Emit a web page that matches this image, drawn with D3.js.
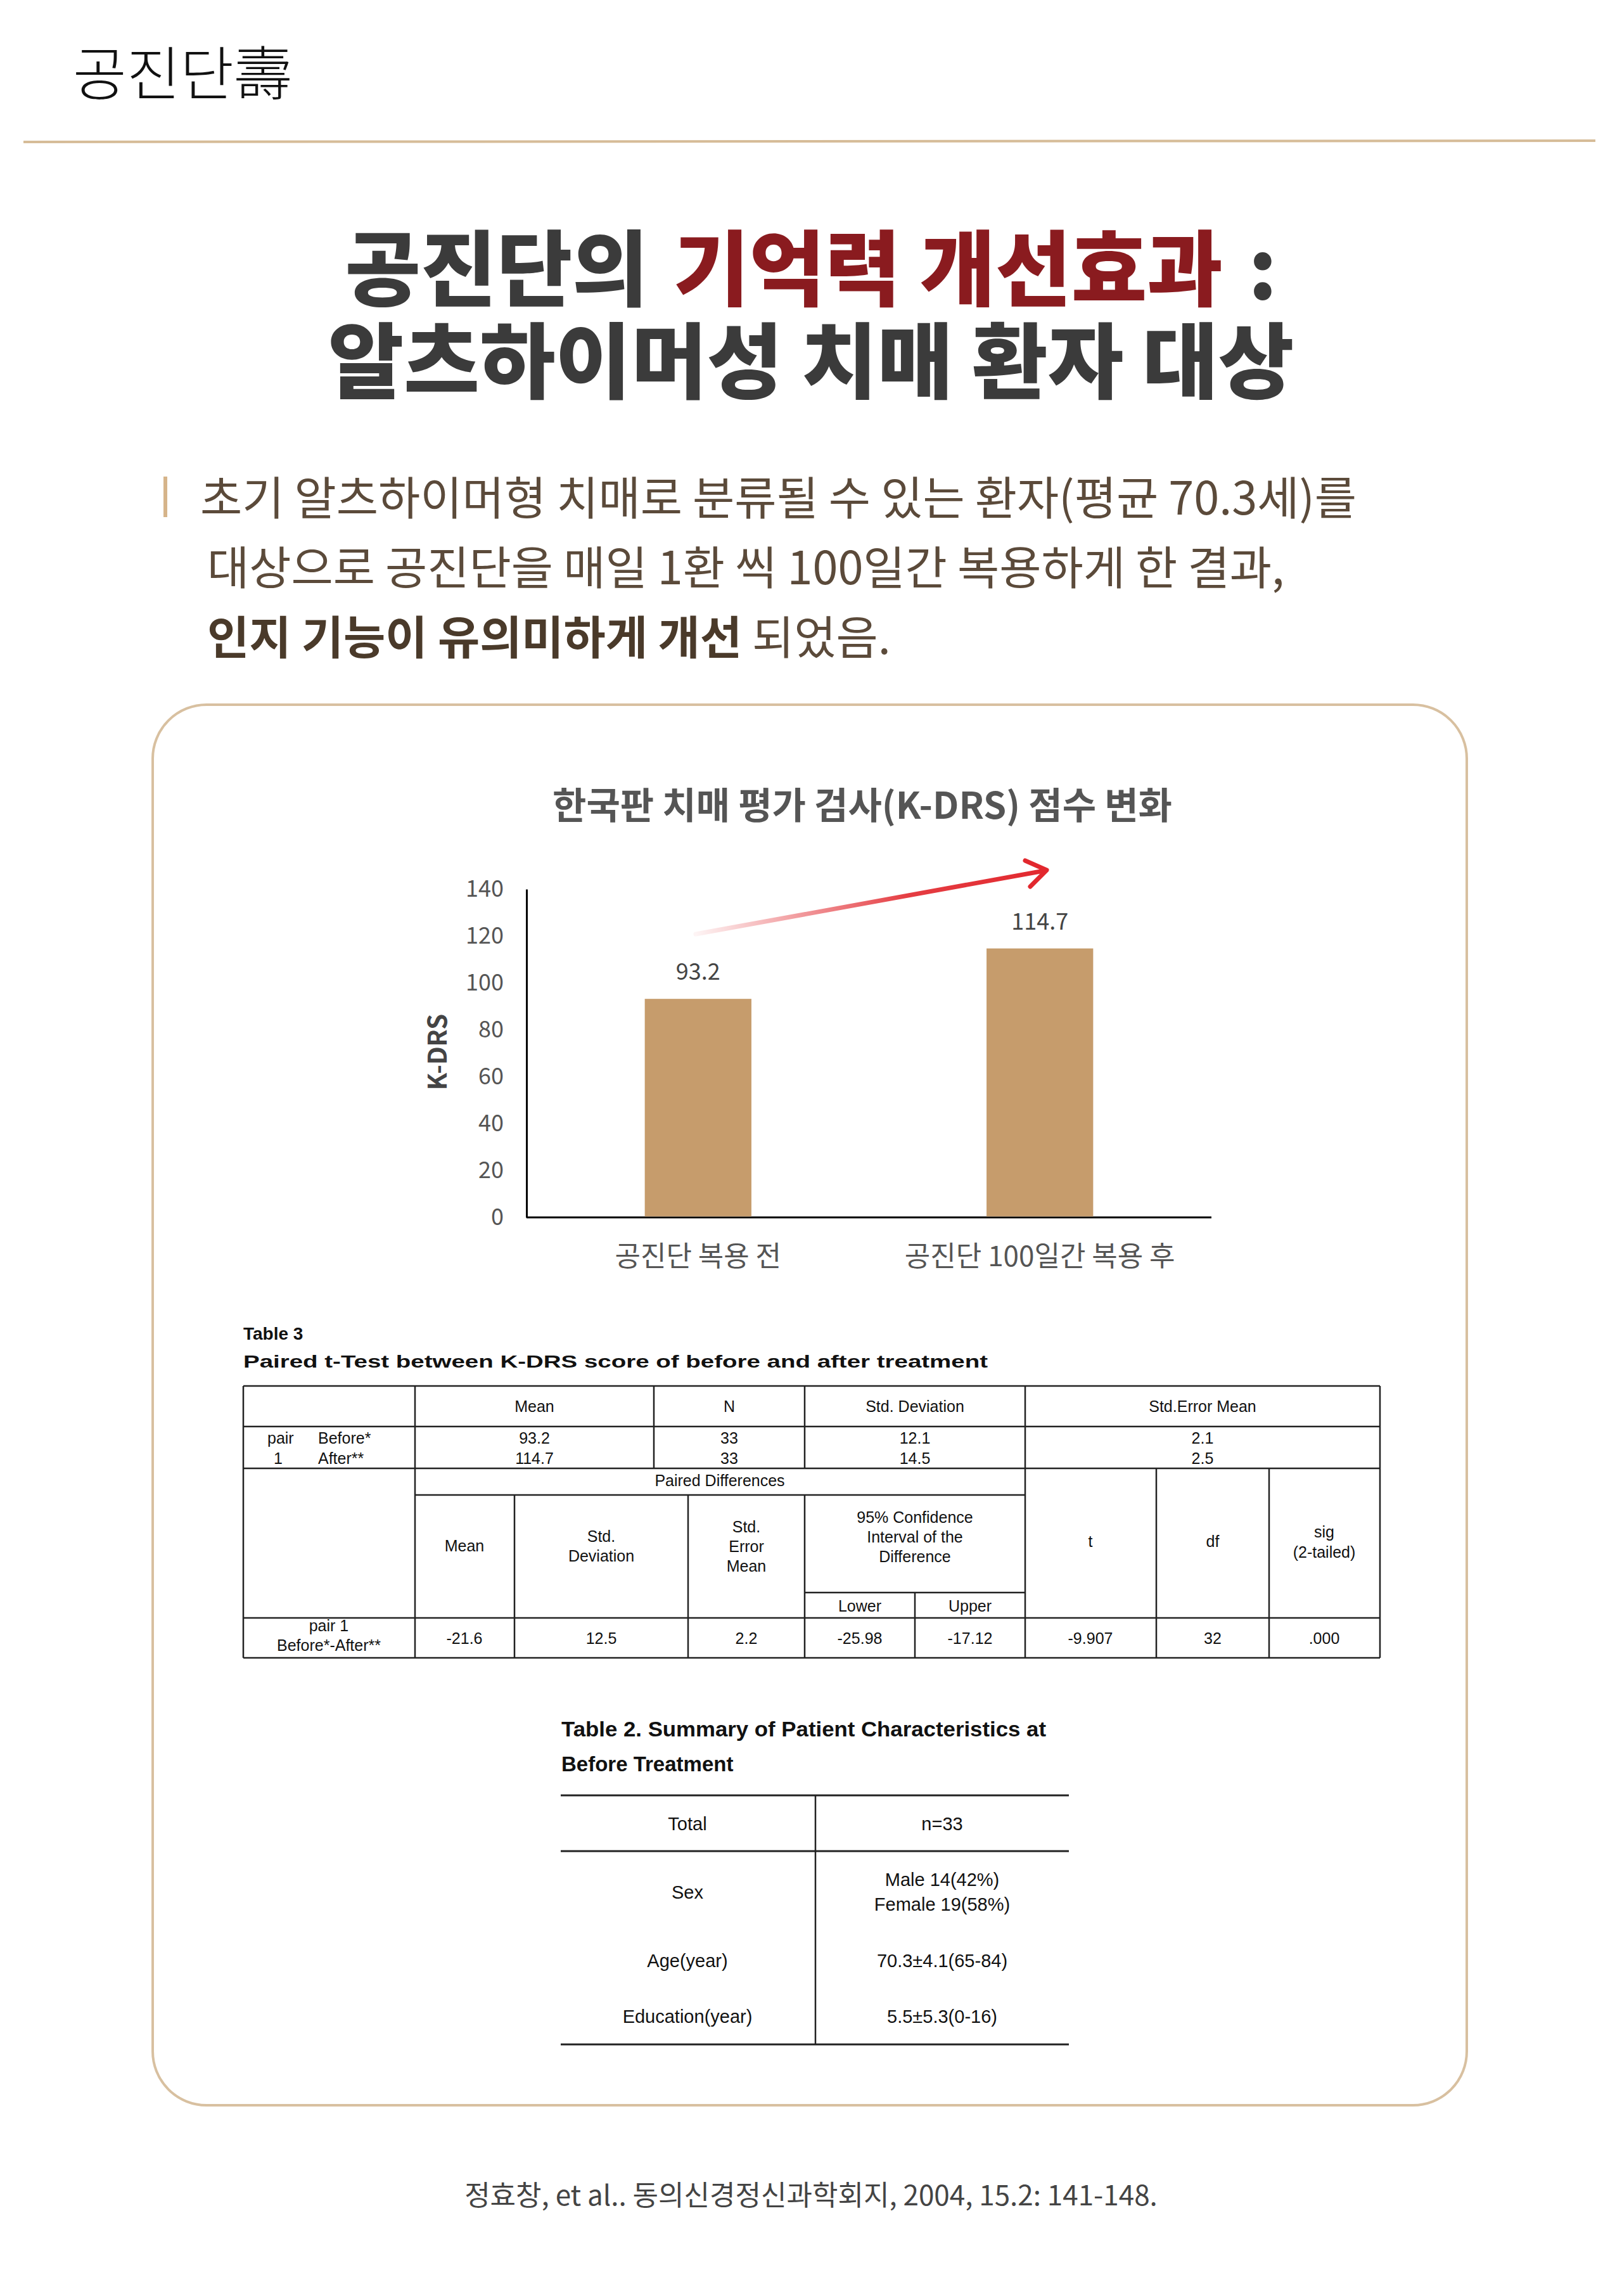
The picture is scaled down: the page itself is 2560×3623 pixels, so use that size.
<!DOCTYPE html>
<html><head><meta charset="utf-8">
<script src="https://cdn.jsdelivr.net/npm/d3@7/dist/d3.min.js"></script>
<style>body{margin:0;background:#fff}svg{display:block}</style>
</head><body>
<script>
const categories = ["공진단 복용 전", "공진단 100일간 복용 후"];
const values = [93.2, 114.7];
const yTicks = [0, 20, 40, 60, 80, 100, 120, 140];

const t3Header = ["Mean", "N", "Std. Deviation", "Std.Error Mean"];
const t3Before = ["93.2", "33", "12.1", "2.1"];
const t3After = ["114.7", "33", "14.5", "2.5"];
const t3Diff = ["-21.6", "12.5", "2.2", "-25.98", "-17.12", "-9.907", "32", ".000"];

const t2Rows = [["Total", "n=33"], ["Sex", "Male 14(42%)|Female 19(58%)"], ["Age(year)", "70.3±4.1(65-84)"], ["Education(year)", "5.5±5.3(0-16)"]];

const W = 2560, H = 3623;
const svg = d3.select("body").append("svg").attr("width", W).attr("height", H);
const KR = "'Noto Sans CJK KR','Noto Sans',sans-serif";
const AR = "'Liberation Sans',Arial,sans-serif";

// header
svg.append("text").attr("x", 115).attr("y", 150).attr("font-family", KR).attr("font-size", 92).attr("font-weight", 300).attr("fill", "#111").text("공진단壽");
svg.append("line").attr("x1", 37).attr("x2", 2518).attr("y1", 224).attr("y2", 222).attr("stroke", "#d6bc98").attr("stroke-width", 4);

// title (separate pieces, placed by measured widths)
const parts = [["공진단의", "#3b3b3b"], ["기억력 개선효과", "#8a1b1f"], [":", "#3b3b3b"]];
const gap = 40;
const nodes = parts.map(p => svg.append("text").attr("y", 472).attr("font-family", KR).attr("font-size", 130).attr("font-weight", 900).attr("fill", p[1]).text(p[0]));
const widths = nodes.map(n => n.node().getComputedTextLength());
let cx = 1280 - (d3.sum(widths) + gap * 2) / 2;
nodes.forEach((n, i) => { n.attr("x", cx); cx += widths[i] + gap; });
svg.append("text").attr("x", 1280).attr("y", 618).attr("text-anchor", "middle").attr("font-family", KR).attr("font-size", 130).attr("font-weight", 900).attr("fill", "#3b3b3b").text("알츠하이머성 치매 환자 대상");

// paragraph
svg.append("rect").attr("x", 258).attr("y", 752).attr("width", 6).attr("height", 64).attr("fill", "#d6b48a");
const pc = "#5b4a3a";
svg.append("text").attr("x", 316).attr("y", 812).attr("font-family", KR).attr("font-size", 72).attr("fill", pc).text("초기 알츠하이머형 치매로 분류될 수 있는 환자(평균 70.3세)를");
svg.append("text").attr("x", 327).attr("y", 922).attr("font-family", KR).attr("font-size", 72).attr("fill", pc).text("대상으로 공진단을 매일 1환 씩 100일간 복용하게 한 결과,");
const p3 = svg.append("text").attr("x", 327).attr("y", 1032).attr("font-family", KR).attr("font-size", 72).attr("fill", pc);
p3.append("tspan").attr("font-weight", 700).attr("fill", "#4a3a2a").text("인지 기능이 유의미하게 개선");
p3.append("tspan").text(" 되었음.");

// box
svg.append("rect").attr("x", 241).attr("y", 1112).attr("width", 2074).attr("height", 2210).attr("rx", 85).attr("fill", "#fff").attr("stroke", "#d8c0a0").attr("stroke-width", 4);

// chart
svg.append("text").attr("x", 1361).attr("y", 1292).attr("text-anchor", "middle").attr("font-family", KR).attr("font-size", 58).attr("font-weight", 700).attr("fill", "#555").text("한국판 치매 평가 검사(K-DRS) 점수 변화");

const x0 = 831, x1 = 1912, y0 = 1921, yT = 1403;
const y = d3.scaleLinear().domain([0, 140]).range([y0, yT]);
const x = d3.scaleBand().domain(categories).range([x0, x1]).paddingInner(0.688).paddingOuter(0.346);
const g = svg.append("g");
g.append("g").attr("transform", `translate(${x0},0)`).call(d3.axisLeft(y).tickValues(yTicks).tickSize(0).tickPadding(36))
  .call(a => { a.select(".domain").attr("stroke", "#000").attr("stroke-width", 3); a.selectAll("text").attr("font-family", KR).attr("font-size", 36).attr("fill", "#555"); });
g.append("line").attr("x1", x0).attr("x2", x1).attr("y1", y0).attr("y2", y0).attr("stroke", "#000").attr("stroke-width", 3);
g.selectAll(".bar").data(values).join("rect").attr("x", (d, i) => x(categories[i])).attr("width", x.bandwidth())
  .attr("y", d => y(d)).attr("height", d => y(0) - y(d) - 1.5).attr("fill", "#c69c6c");
g.selectAll(".val").data(values).join("text").attr("x", (d, i) => x(categories[i]) + x.bandwidth() / 2).attr("y", d => y(d) - 30)
  .attr("text-anchor", "middle").attr("font-family", KR).attr("font-size", 36).attr("fill", "#444").text(d => d);
g.selectAll(".cat").data(categories).join("text").attr("x", d => x(d) + x.bandwidth() / 2).attr("y", 1998)
  .attr("text-anchor", "middle").attr("font-family", KR).attr("font-size", 44).attr("fill", "#555").text(d => d);
svg.append("text").attr("transform", "translate(705,1660) rotate(-90)").attr("text-anchor", "middle").attr("font-family", KR).attr("font-size", 40).attr("font-weight", 700).attr("fill", "#444").text("K-DRS");

// arrow
const defs = svg.append("defs");
const gr = defs.append("linearGradient").attr("id", "ag").attr("gradientUnits", "userSpaceOnUse").attr("x1", 1098).attr("y1", 1472).attr("x2", 1655).attr("y2", 1372);
gr.append("stop").attr("offset", 0).attr("stop-color", "#e2282e").attr("stop-opacity", 0.05);
gr.append("stop").attr("offset", 0.6).attr("stop-color", "#e2282e").attr("stop-opacity", 0.9);
gr.append("stop").attr("offset", 1).attr("stop-color", "#e2282e");
svg.append("line").attr("x1", 1098).attr("y1", 1474).attr("x2", 1648).attr("y2", 1374).attr("stroke", "url(#ag)").attr("stroke-width", 7).attr("stroke-linecap", "round");
svg.append("path").attr("d", "M1618,1358 L1652,1373 L1626,1399").attr("fill", "none").attr("stroke", "#e2282e").attr("stroke-width", 7).attr("stroke-linecap", "round").attr("stroke-linejoin", "round");

// table 3
const T = svg.append("g").attr("font-family", AR).attr("fill", "#111");
T.append("text").attr("x", 384).attr("y", 2114).attr("font-size", 28).attr("font-weight", 700).text("Table 3");
T.append("text").attr("x", 384).attr("y", 2158).attr("font-size", 28).attr("font-weight", 700).attr("textLength", 1175).attr("lengthAdjust", "spacingAndGlyphs").text("Paired t-Test between K-DRS score of before and after treatment");
const L = 384, R = 2178;
const ln = (a, b, c, d) => T.append("line").attr("x1", a).attr("y1", b).attr("x2", c).attr("y2", d).attr("stroke", "#222").attr("stroke-width", 2.5);
ln(L, 2187, R, 2187); ln(L, 2251, R, 2251); ln(L, 2317, R, 2317); ln(655, 2359, 1618, 2359); ln(1270, 2513, 1618, 2513); ln(L, 2553, R, 2553); ln(L, 2616, R, 2616);
ln(L, 2187, L, 2616); ln(R, 2187, R, 2616);
[655, 1032, 1270, 1618].forEach(c => ln(c, 2187, c, 2317));
ln(655, 2317, 655, 2616);
[812, 1086, 1270, 1618, 1825, 2003].forEach(c => ln(c, 2359, c, 2616));
ln(1618, 2317, 1618, 2359); ln(1825, 2317, 1825, 2359); ln(2003, 2317, 2003, 2359);
ln(1444, 2513, 1444, 2616);
const tt = (s, cx, cy, anchor) => T.append("text").attr("x", cx).attr("y", cy).attr("text-anchor", anchor || "middle").attr("font-size", 25).text(s);
const hc = [(655 + 1032) / 2, (1032 + 1270) / 2, (1270 + 1618) / 2, (1618 + R) / 2];
t3Header.forEach((s, i) => tt(s, hc[i], 2228));
t3Before.forEach((s, i) => tt(s, hc[i], 2278));
t3After.forEach((s, i) => tt(s, hc[i], 2310));
tt("pair", 422, 2278, "start"); tt("Before*", 502, 2278, "start");
tt("1", 432, 2310, "start"); tt("After**", 502, 2310, "start");
tt("Paired Differences", 1136, 2345);
tt("Mean", 733, 2448);
tt("Std.", 949, 2433); tt("Deviation", 949, 2464);
tt("Std.", 1178, 2418); tt("Error", 1178, 2449); tt("Mean", 1178, 2480);
tt("95% Confidence", 1444, 2403); tt("Interval of the", 1444, 2434); tt("Difference", 1444, 2465);
tt("Lower", 1357, 2543); tt("Upper", 1531, 2543);
tt("t", 1721, 2441); tt("df", 1914, 2441); tt("sig", 2090, 2426); tt("(2-tailed)", 2090, 2458);
tt("pair 1", 519, 2574); tt("Before*-After**", 519, 2605);
const dc = [733, 949, 1178, 1357, 1531, 1721, 1914, 2090];
t3Diff.forEach((s, i) => tt(s, dc[i], 2594));

// table 2
const T2 = svg.append("g").attr("font-family", AR).attr("fill", "#111");
T2.append("text").attr("x", 886).attr("y", 2740).attr("font-size", 33).attr("font-weight", 700).attr("textLength", 765).attr("lengthAdjust", "spacingAndGlyphs").text("Table 2. Summary of Patient Characteristics at");
T2.append("text").attr("x", 886).attr("y", 2795).attr("font-size", 33).attr("font-weight", 700).text("Before Treatment");
const l2 = (a, b, c, d, w) => T2.append("line").attr("x1", a).attr("y1", b).attr("x2", c).attr("y2", d).attr("stroke", "#222").attr("stroke-width", w || 3);
l2(885, 2833, 1687, 2833); l2(885, 2921, 1687, 2921); l2(885, 3226, 1687, 3226); l2(1287, 2833, 1287, 3226, 2.5);
const ry = [[2888], [2996], [3104], [3192]];
const vy = [[2888], [2976, 3015], [3104], [3192]];
t2Rows.forEach((r, i) => {
  T2.append("text").attr("x", 1085).attr("y", ry[i][0]).attr("text-anchor", "middle").attr("font-size", 29).text(r[0]);
  r[1].split("|").forEach((s, j) => T2.append("text").attr("x", 1487).attr("y", vy[i][j]).attr("text-anchor", "middle").attr("font-size", 29).text(s));
});

// citation
svg.append("text").attr("x", 1280).attr("y", 3480).attr("text-anchor", "middle").attr("font-family", KR).attr("font-size", 44).attr("fill", "#444").text("정효창, et al.. 동의신경정신과학회지, 2004, 15.2: 141-148.");
</script>
</body></html>
